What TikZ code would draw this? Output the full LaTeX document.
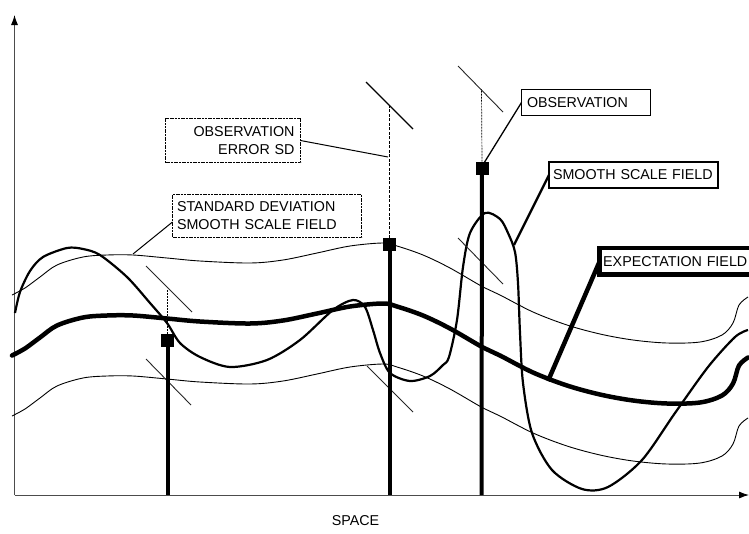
\documentclass[tikz,border=0pt]{standalone}
\usepackage{fontspec}
\setmainfont{Liberation Sans}
\usetikzlibrary{arrows.meta}
% shape shared by the expectation field and its standard-deviation envelope
\newcommand{\envelopeline}{plot[smooth,tension=0.55] coordinates {(12,295) (25,288) (40,277) (57,265) (83,257) (107,255) (133,255) (167,258) (200,261) (250,263) (283,260) (317,253) (350,246) (383,243) (397,246) (423,255) (450,268) (483,287) (500,295) (533,312) (567,325) (600,334) (633,340) (667,343) (700,342) (722,335) (733,323) (739,305) (748,297)}}
\begin{document}
\begin{tikzpicture}[x=1pt,y=-1pt,
  lbl/.style={font=\fontsize{14.3}{18}\selectfont, inner ysep=0pt, outer sep=0pt, anchor=north west, fill=white},
  sdframe/.style={lbl, draw, line width=0.9pt, dash pattern=on 2pt off 0.7pt},
  axis/.style={draw=black!70, line width=0.9pt, -{Latex[length=10pt,width=7pt,color=black]}},
  thinfield/.style={line width=0.9pt, line join=round},
  smoothfield/.style={line width=2.2pt, line join=round},
  expfield/.style={line width=4.5pt, line join=round, line cap=round},
  bar/.style={line width=4pt},
  obsmark/.style={fill=black, minimum size=13pt, inner sep=0pt, outer sep=0pt},
  errtick/.style={draw=black!85, line width=0.9pt},
  obsdash/.style={line width=0.8pt, dash pattern=on 2pt off 1pt},
  conn/.style={line width=1pt}
]
\useasboundingbox (0,0) rectangle (749,533);

% axes
\coordinate (origin) at (14.5,495);
\coordinate (ytop) at (14.5,15);
\coordinate (xend) at (749,495);
\draw[axis] (origin) -- (ytop);
\draw[axis] (origin) -- (xend);
\node[font=\fontsize{14.3}{18}\selectfont, inner sep=0pt] (space) at (355.5,521) {SPACE};

% standard deviation envelope and expectation field
\draw[thinfield] \envelopeline;
\draw[thinfield, shift={(0,121)}] \envelopeline;
\draw[expfield, shift={(0,60.5)}] \envelopeline;

% smooth scale field
\draw[smoothfield] plot[smooth,tension=0.5] coordinates {(15,313) (20,292) (30,271) (43,257) (67,248) (83,249) (100,255) (127,277) (150,303) (167,323) (180,343) (200,357) (230,367) (267,360) (300,340) (333,310) (353,300) (365,307) (373,330) (380,353) (390,373) (410,381) (430,376) (443,365) (449,357) (457,320) (463,267) (470,233) (485,213) (500,219) (508,233) (515,252) (518,283) (520,333) (523,383) (532,433) (552,470) (582,489) (608,487) (642,460) (675,413) (708,367) (735,337) (748,330)};

% observation error bars (plus/minus one SD)
\coordinate (tA1) at (146,266); \coordinate (tA2) at (192,312);
\coordinate (tA3) at (146,359); \coordinate (tA4) at (191,405);
\coordinate (tB1) at (366,82);  \coordinate (tB2) at (413,129);
\coordinate (tB3) at (367,366); \coordinate (tB4) at (413,412);
\coordinate (tC1) at (458,66);  \coordinate (tC2) at (503,112);
\coordinate (tC3) at (458,238); \coordinate (tC4) at (503,284);
\draw[errtick] (tA1) -- (tA2);
\draw[errtick] (tA3) -- (tA4);
\draw[errtick, line width=1.3pt, draw=black] (tB1) -- (tB2);
\draw[errtick] (tB3) -- (tB4);
\draw[errtick] (tC1) -- (tC2);
\draw[errtick] (tC3) -- (tC4);

% observations
\node[obsmark] (obsA) at (167.5,340) {};
\node[obsmark] (obsB) at (389.5,244.5) {};
\node[obsmark] (obsC) at (482,168) {};
\coordinate (footA) at (167.5,495);
\coordinate (footB) at (389.5,495);
\coordinate (footC) at (481.5,495);
\draw[bar] (obsA.center) -- (footA);
\draw[bar] (obsB.center) -- (footB);
\draw[bar] (obsC.center) -- (footC);
\coordinate (topA) at (167.5,289);
\coordinate (topB) at (389.5,105);
\coordinate (topC) at (481.5,89);
\draw[obsdash] (obsA.north) -- (topA);
\draw[obsdash, line width=1.3pt, dash pattern=on 3pt off 1.5pt] (obsB.north) -- (topB);
\draw[obsdash, line width=0.7pt] (obsC.north) -- (topC);

% labels
\node[sdframe, minimum width=135pt, minimum height=44pt, inner xsep=6pt, text width=123pt, align=right] (errsd) at (165.5,118.5) {OBSERVATION\\ERROR SD};
\node[sdframe, minimum width=189pt, minimum height=43pt, inner xsep=4.5pt, text width=180pt, align=left] (sdlabel) at (172.5,194.5) {STANDARD DEVIATION\\SMOOTH SCALE FIELD};
\node[lbl, draw, line width=1.2pt, minimum width=129pt, minimum height=26pt, inner xsep=5.5pt, text width=118pt, align=left] (obslabel) at (521.5,89.5) {OBSERVATION};
\node[lbl, draw, line width=2.3pt, minimum width=169pt, minimum height=26pt, inner xsep=4pt, text width=161pt, align=left] (smlabel) at (549,162) {SMOOTH SCALE FIELD};
\node[lbl, draw, line width=4.5pt, minimum width=160pt, minimum height=26.5pt, inner xsep=3.5pt, text width=153pt, align=left] (explabel) at (599.7,248) {EXPECTATION FIELD};

% leader lines
\coordinate (errpt) at (388,157);
\coordinate (sdpt) at (133,254);
\coordinate (obspt) at (484,163);
\coordinate (smpt) at (514,245);
\coordinate (exppt) at (548,381);
\draw[conn] (errsd.east) -- (errpt);
\draw[conn] ([yshift=-6pt]sdlabel.west) -- (sdpt);
\draw[conn, line width=1.3pt] (obslabel.west) -- (obspt);
\draw[conn, line width=2.3pt] (smlabel.west) -- (smpt);
\draw[conn, line width=4.5pt] (explabel.west) -- (exppt);
\end{tikzpicture}
\end{document}
